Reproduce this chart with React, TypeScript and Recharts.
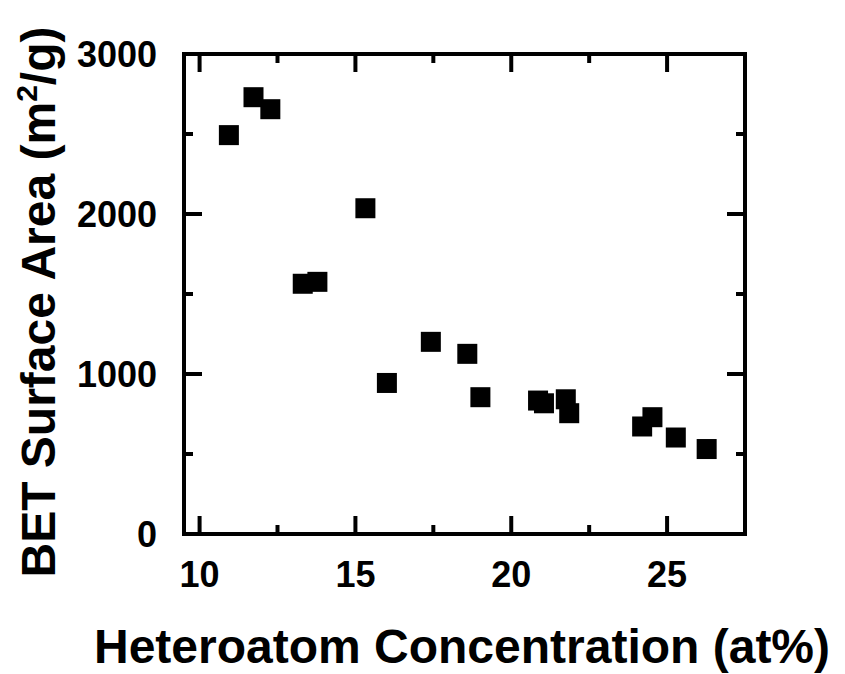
import React from 'react';
import { ScatterChart, Scatter, XAxis, YAxis } from 'recharts';

const heteroatom = [10.94, 11.73, 12.27, 13.31, 13.78, 15.32, 16.01, 17.42, 18.59, 19.01, 20.86, 21.05, 21.75, 21.86, 24.2, 24.53, 25.28, 26.27];
const betArea = [2493, 2730, 2655, 1564, 1576, 2036, 944, 1201, 1126, 855, 834, 817, 842, 755, 672, 730, 603, 531];
const xMajorTicks = [10, 15, 20, 25];
const xMinorTicks = [12.5, 17.5, 22.5];
const yMajorTicks = [0, 1000, 2000, 3000];
const yMinorTicks = [500, 1500, 2500];
const xAllTicks = [10, 12.5, 15, 17.5, 20, 22.5, 25];
const yAllTicks = [0, 500, 1000, 1500, 2000, 2500, 3000];
const xDomain = [9.5, 27.5];
const yDomain = [0, 3000];

const data = heteroatom.map((x, i) => ({ x, y: betArea[i] }));

const FONT = 'Liberation Sans, Arial, Helvetica, sans-serif';
const TICK_FONT_SIZE = 36;
const MAJOR = 18;
const MINOR = 9;
const lineStyle = { stroke: '#000', strokeWidth: 4, strokeLinecap: 'square' as const };

const isMajorX = (v: number) => xMajorTicks.includes(v) && !xMinorTicks.includes(v);
const isMajorY = (v: number) => yMajorTicks.includes(v) && !yMinorTicks.includes(v);

const BottomTick = (p: any) => {
  const v = p.payload.value;
  const major = isMajorX(v);
  return (
    <g>
      <line x1={p.x} y1={p.y} x2={p.x} y2={p.y - (major ? MAJOR : MINOR)} stroke="#000" strokeWidth={4} />
      {major && (
        <text x={p.x} y={p.y + 27} dy="0.71em" textAnchor="middle" fontSize={TICK_FONT_SIZE} fontWeight="bold" fontFamily={FONT} fill="#000">
          {v}
        </text>
      )}
    </g>
  );
};

const TopTick = (p: any) => {
  const v = p.payload.value;
  const major = isMajorX(v);
  return (
    <g>
      <line x1={p.x} y1={p.y} x2={p.x} y2={p.y + (major ? MAJOR : MINOR)} stroke="#000" strokeWidth={4} />
    </g>
  );
};

const LeftTick = (p: any) => {
  const v = p.payload.value;
  const major = isMajorY(v);
  return (
    <g>
      <line x1={p.x} y1={p.y} x2={p.x + (major ? MAJOR : MINOR)} y2={p.y} stroke="#000" strokeWidth={4} />
      {major && (
        <text x={p.x - 27} y={p.y} dy="0.355em" textAnchor="end" fontSize={TICK_FONT_SIZE} fontWeight="bold" fontFamily={FONT} fill="#000">
          {v}
        </text>
      )}
    </g>
  );
};

const RightTick = (p: any) => {
  const v = p.payload.value;
  const major = isMajorY(v);
  return (
    <g>
      <line x1={p.x} y1={p.y} x2={p.x - (major ? MAJOR : MINOR)} y2={p.y} stroke="#000" strokeWidth={4} />
    </g>
  );
};

const XTitle = () => (
  <text x={462} y={663} textAnchor="middle" fontSize={48} fontWeight="bold" fontFamily={FONT} fill="#000">
    Heteroatom Concentration (at%)
  </text>
);

const YTitle = () => (
  <text x={55} y={302} transform="rotate(-90 55 302)" textAnchor="middle" fontSize={48} fontWeight="bold" fontFamily={FONT} fill="#000">
    BET Surface Area (m<tspan fontSize={30} dy={-18}>2</tspan><tspan dy={18}>/g)</tspan>
  </text>
);

const Square = (props: any) => {
  const { cx, cy } = props;
  return <rect x={cx - 10} y={cy - 10} width={20} height={20} fill="#000" />;
};

export default function App() {
  return (
    <div style={{ position: 'absolute', left: 0, top: 0 }}>
      <ScatterChart width={845} height={674} margin={{ top: 34, right: 99, bottom: 80, left: 0 }}>
        <XAxis xAxisId="x" dataKey="x" type="number" domain={xDomain} allowDataOverflow ticks={xAllTicks} interval={0}
          tick={<BottomTick />} tickLine={false} axisLine={lineStyle} tickSize={0} tickMargin={0} height={60} label={<XTitle />} />
        <XAxis xAxisId="top" dataKey="x" type="number" orientation="top" domain={xDomain} allowDataOverflow ticks={xAllTicks} interval={0}
          tick={<TopTick />} tickLine={false} axisLine={lineStyle} tickSize={0} tickMargin={0} height={20} />
        <YAxis yAxisId="y" dataKey="y" type="number" domain={yDomain} allowDataOverflow ticks={yAllTicks} interval={0}
          tick={<LeftTick />} tickLine={false} axisLine={lineStyle} tickSize={0} tickMargin={0} width={184} label={<YTitle />} />
        <YAxis yAxisId="right" type="number" orientation="right" domain={yDomain} allowDataOverflow ticks={yAllTicks} interval={0}
          tick={<RightTick />} tickLine={false} axisLine={lineStyle} tickSize={0} tickMargin={0} width={1} />
        <Scatter data={data} xAxisId="x" yAxisId="y" fill="#000" shape={<Square />} isAnimationActive={false} />
      </ScatterChart>
    </div>
  );
}
